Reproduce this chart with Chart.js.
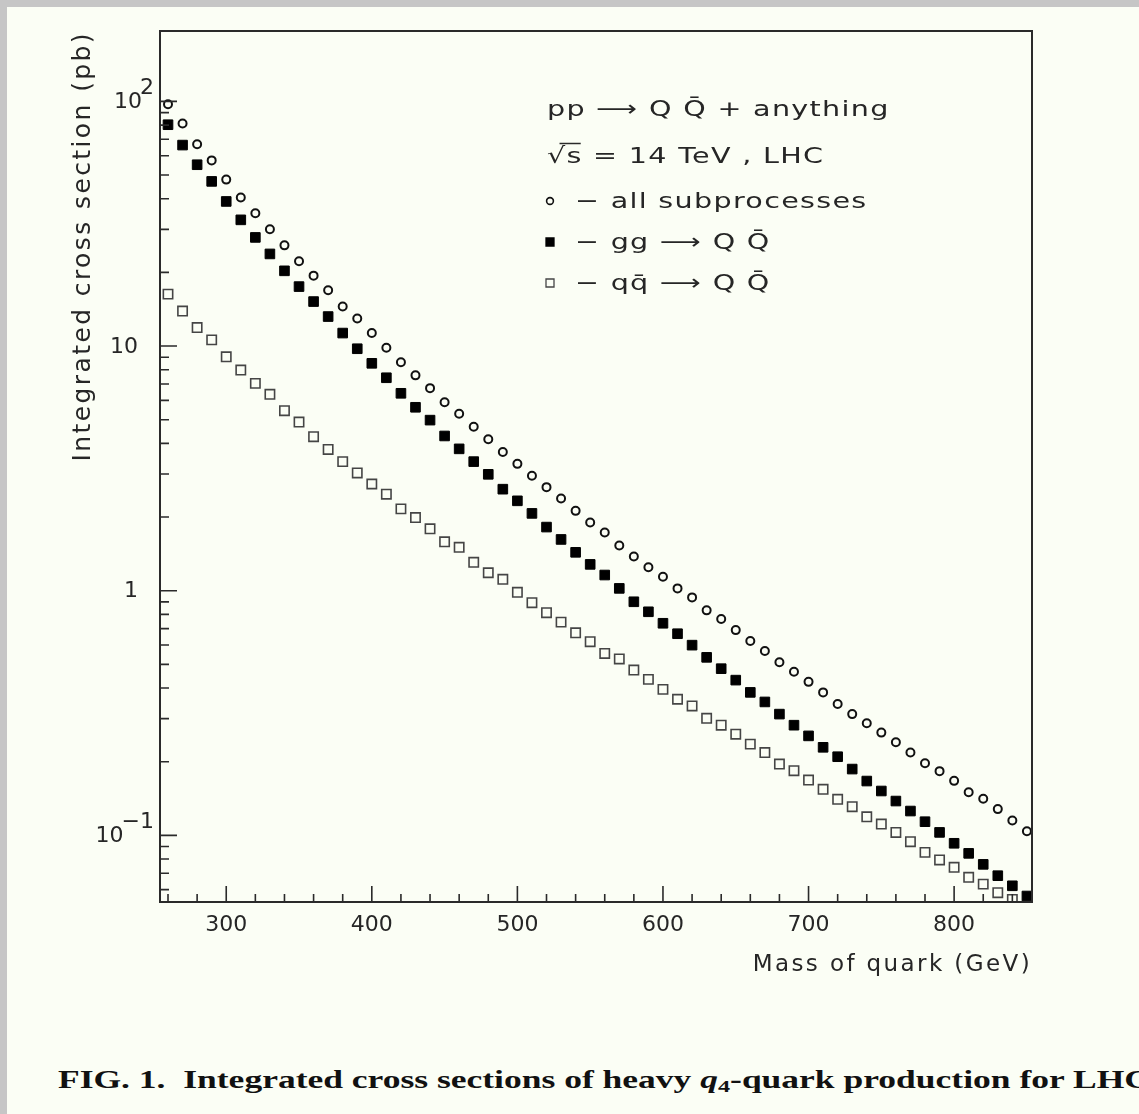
<!DOCTYPE html>
<html lang="en">
<head>
<meta charset="UTF-8">
<title>Integrated cross sections of heavy quark production</title>
<style>
  html, body { margin: 0; padding: 0; }
  body { width: 1139px; height: 1114px; overflow: hidden; background: #c6c6c6; position: relative; }
  #panel { position: absolute; left: 7px; top: 7px; width: 1132px; height: 1107px; background: #fbfef5; }
  #wrap { position: absolute; left: 0; top: 0; width: 1139px; height: 990px; }
  #caption { position: absolute; left: 58px; top: 1067px; font: bold 25px "Liberation Serif", serif; line-height: 25px;
             white-space: nowrap; transform: scaleX(1.42); transform-origin: 0 0; color: #111; }
  #caption sub { font-size: 17px; line-height: 0; vertical-align: -4px; }
</style>
</head>
<body>
<div id="panel"></div>
<div id="wrap"><canvas id="myChart" width="1139" height="990"></canvas></div>
<div id="caption">FIG. 1.&nbsp; Integrated cross sections of heavy <i>q</i><sub>4</sub>-quark production for LHC</div>

<script src="https://cdn.jsdelivr.net/npm/chart.js"></script>
<script>
// quark mass (GeV)
const masses = [260, 270, 280, 290, 300, 310, 320, 330, 340, 350,
                360, 370, 380, 390, 400, 410, 420, 430, 440, 450,
                460, 470, 480, 490, 500, 510, 520, 530, 540, 550,
                560, 570, 580, 590, 600, 610, 620, 630, 640, 650,
                660, 670, 680, 690, 700, 710, 720, 730, 740, 750,
                760, 770, 780, 790, 800, 810, 820, 830, 840, 850];

// cross sections (pb)
const allSub = [97.3, 81.2, 66.8, 57.4, 47.9, 40.5, 34.9, 30.0, 25.8, 22.2,
                19.4, 16.9, 14.5, 12.95, 11.3, 9.84, 8.58, 7.59, 6.73, 5.89,
                5.29, 4.68, 4.16, 3.69, 3.30, 2.95, 2.65, 2.38, 2.12, 1.90,
                1.73, 1.53, 1.38, 1.246, 1.140, 1.022, 0.939, 0.831, 0.766, 0.690,
                0.623, 0.567, 0.510, 0.466, 0.424, 0.384, 0.344, 0.313, 0.287, 0.263,
                0.240, 0.218, 0.197, 0.183, 0.167, 0.150, 0.141, 0.128, 0.115, 0.104];

const ggQQ = [80.3, 66.3, 55.1, 47.1, 39.0, 32.8, 27.8, 23.8, 20.3, 17.5,
              15.2, 13.2, 11.3, 9.75, 8.50, 7.42, 6.41, 5.62, 4.98, 4.29,
              3.80, 3.37, 2.99, 2.60, 2.33, 2.07, 1.82, 1.62, 1.435, 1.281,
              1.159, 1.022, 0.901, 0.820, 0.736, 0.667, 0.599, 0.534, 0.480, 0.431,
              0.384, 0.351, 0.313, 0.282, 0.255, 0.229, 0.2096, 0.1866, 0.1667, 0.1518,
              0.1381, 0.1257, 0.1137, 0.1028, 0.0928, 0.0844, 0.0761, 0.0684, 0.0622, 0.0565];

const qqQQ = [16.3, 13.9, 11.9, 10.6, 9.04, 7.98, 7.04, 6.35, 5.44, 4.89,
              4.26, 3.78, 3.37, 3.03, 2.73, 2.48, 2.16, 1.99, 1.79, 1.585,
              1.504, 1.306, 1.184, 1.113, 0.985, 0.893, 0.813, 0.744, 0.673, 0.619,
              0.554, 0.526, 0.474, 0.434, 0.395, 0.360, 0.338, 0.301, 0.282, 0.259,
              0.236, 0.218, 0.1956, 0.1837, 0.1683, 0.1542, 0.1404, 0.1309, 0.1191, 0.1112,
              0.1028, 0.0942, 0.0852, 0.0793, 0.0740, 0.0674, 0.0632, 0.0583, 0.0547, null];

const seriesLabels = ['all subprocesses', 'gg \u27F6 Q Q\u0304', 'qq\u0304 \u27F6 Q Q\u0304'];
const headerLines = ['pp \u27F6 Q Q\u0304 + anything', '\u221As = 14 TeV , LHC'];

// axes
const xMin = 254.5, xMax = 853.5;
const yMin = 0.0534, yMax = 194;
const xMajorTicks = [300, 400, 500, 600, 700, 800];
const xMinorTicks = [260, 280, 320, 340, 360, 380, 420, 440, 460, 480, 520, 540, 560, 580,
                     620, 640, 660, 680, 720, 740, 760, 780, 820, 840];
const yMajorTicks = [0.1, 1, 10, 100];
const yMinorTicks = [0.06, 0.07, 0.08, 0.09, 0.2, 0.3, 0.4, 0.5, 0.6, 0.7, 0.8, 0.9,
                     2, 3, 4, 5, 6, 7, 8, 9, 20, 30, 40, 50, 60, 70, 80, 90];
const yLabelValues = [100, 10, 1, 0.1];
const yLabelBases = ['10', '10', '1', '10'];
const yLabelExps = ['2', '', '', '\u22121'];

const FONT = '"DejaVu Sans", sans-serif';
const ink = '#262626';

const toPoints = vals => masses.map((m, i) => ({x: m, y: vals[i]}));

// wide lettering like the old plotting package
function wideText(ctx, text, x, y, sx) {
    ctx.save();
    ctx.translate(x, y);
    ctx.scale(sx, 1);
    ctx.fillText(text, 0, 0);
    ctx.restore();
}

const paperPlugin = {
    id: 'paper',
    beforeDraw(chart) {
        chart.ctx.letterSpacing = '2.4px';   // axis titles
    },
    afterDatasetsDraw(chart) {
        const {ctx, chartArea: a, scales: {x, y}} = chart;
        ctx.letterSpacing = '0px';           // tick labels are drawn after this
        ctx.save();
        ctx.strokeStyle = '#2a2a2a';
        ctx.lineWidth = 2;
        ctx.strokeRect(a.left, a.top, a.right - a.left, a.bottom - a.top);

        ctx.lineWidth = 1.6;
        ctx.beginPath();
        xMajorTicks.forEach(v => { const p = x.getPixelForValue(v); ctx.moveTo(p, a.bottom); ctx.lineTo(p, a.bottom - 16); });
        xMinorTicks.forEach(v => { const p = x.getPixelForValue(v); ctx.moveTo(p, a.bottom); ctx.lineTo(p, a.bottom - 8); });
        yMajorTicks.forEach(v => { const p = y.getPixelForValue(v); ctx.moveTo(a.left, p); ctx.lineTo(a.left + 17, p); });
        yMinorTicks.forEach(v => { const p = y.getPixelForValue(v); ctx.moveTo(a.left, p); ctx.lineTo(a.left + 9, p); });
        ctx.stroke();

        // y tick labels with exponents
        ctx.fillStyle = ink;
        ctx.font = '22px ' + FONT;
        ctx.textBaseline = 'middle';
        ctx.textAlign = 'left';
        yLabelValues.forEach((v, i) => {
            const p = y.getPixelForValue(v);
            const bw = ctx.measureText(yLabelBases[i]).width;
            if (yLabelExps[i]) {
                const ew = ctx.measureText(yLabelExps[i]).width;
                const right = 154;
                ctx.fillText(yLabelBases[i], right - ew - bw + 2, p + 1);
                ctx.fillText(yLabelExps[i], right - ew, p - 13);
            } else {
                ctx.fillText(yLabelBases[i], 138 - bw, p + 1);
            }
        });

        // text block
        const sx = 1.3;
        ctx.letterSpacing = '1px';
        ctx.textBaseline = 'alphabetic';
        wideText(ctx, headerLines[0], 547, 116, sx);
        wideText(ctx, headerLines[1], 547, 163, sx);
        const rw = ctx.measureText('\u221A').width * sx;
        const sw = ctx.measureText('s').width * sx;
        ctx.lineWidth = 1.5;
        ctx.beginPath();
        ctx.moveTo(547 + rw - 7, 163 - 19.5);
        ctx.lineTo(547 + rw + sw - 2, 163 - 19.5);
        ctx.stroke();

        const baselines = [208, 249, 290];
        chart.data.datasets.forEach((ds, i) => {
            const cy = baselines[i] - 7;
            ctx.lineWidth = i === 0 ? 1.6 : 1.3;
            ctx.strokeStyle = ds.borderColor;
            ctx.fillStyle = ds.backgroundColor;
            ctx.beginPath();
            if (ds.pointStyle === 'circle') {
                ctx.arc(550, cy, 3.4, 0, Math.PI * 2);
            } else {
                ctx.rect(546, cy - 4, 8, 8);
            }
            ctx.fill();
            ctx.stroke();
            ctx.fillStyle = ink;
            wideText(ctx, '\u2212 ' + ds.label, 575, baselines[i], sx);
        });
        ctx.restore();
    }
};

const ctx = document.getElementById('myChart');
const chart = new Chart(ctx, {
    type: 'scatter',
    data: {
        datasets: [{
            label: seriesLabels[0],
            data: toPoints(allSub),
            pointStyle: 'circle',
            pointRadius: 4,
            borderWidth: 2,
            borderColor: '#111111',
            backgroundColor: 'rgba(0,0,0,0)',
            clip: 0
        }, {
            label: seriesLabels[1],
            data: toPoints(ggQQ),
            pointStyle: 'rect',
            pointRadius: 6.8,
            borderWidth: 1,
            borderColor: '#000000',
            backgroundColor: '#000000',
            clip: 0
        }, {
            label: seriesLabels[2],
            data: toPoints(qqQQ),
            pointStyle: 'rect',
            pointRadius: 6.6,
            borderWidth: 1.6,
            borderColor: '#454545',
            backgroundColor: 'rgba(0,0,0,0)',
            clip: 0
        }]
    },
    options: {
        responsive: false,
        animation: false,
        devicePixelRatio: 1,
        layout: { padding: { left: 0, right: 107, top: 31, bottom: 0 } },
        plugins: { legend: { display: false }, tooltip: { enabled: false } },
        scales: {
            x: {
                type: 'linear',
                min: xMin,
                max: xMax,
                grid: { display: false },
                border: { display: false },
                afterBuildTicks: s => { s.ticks = xMajorTicks.map(v => ({value: v})); },
                afterFit: s => { s.height = 88; },
                ticks: { z: 1, autoSkip: false, maxRotation: 0, padding: 4, color: ink,
                         font: { family: FONT, size: 22, lineHeight: 1 } },
                title: { display: true, text: 'Mass of quark (GeV)', align: 'end', color: ink,
                         font: { family: FONT, size: 23, lineHeight: 1 }, padding: { top: 0, bottom: 13 } }
            },
            y: {
                type: 'logarithmic',
                min: yMin,
                max: yMax,
                grid: { display: false },
                border: { display: false },
                ticks: { display: false },
                afterFit: s => { s.width = 160; },
                title: { display: true, text: 'Integrated cross section (pb)', align: 'end', color: ink,
                         font: { family: FONT, size: 25, lineHeight: 1 }, padding: { top: 71, bottom: 0 } }
            }
        }
    },
    plugins: [paperPlugin]
});
</script>
</body>
</html>
